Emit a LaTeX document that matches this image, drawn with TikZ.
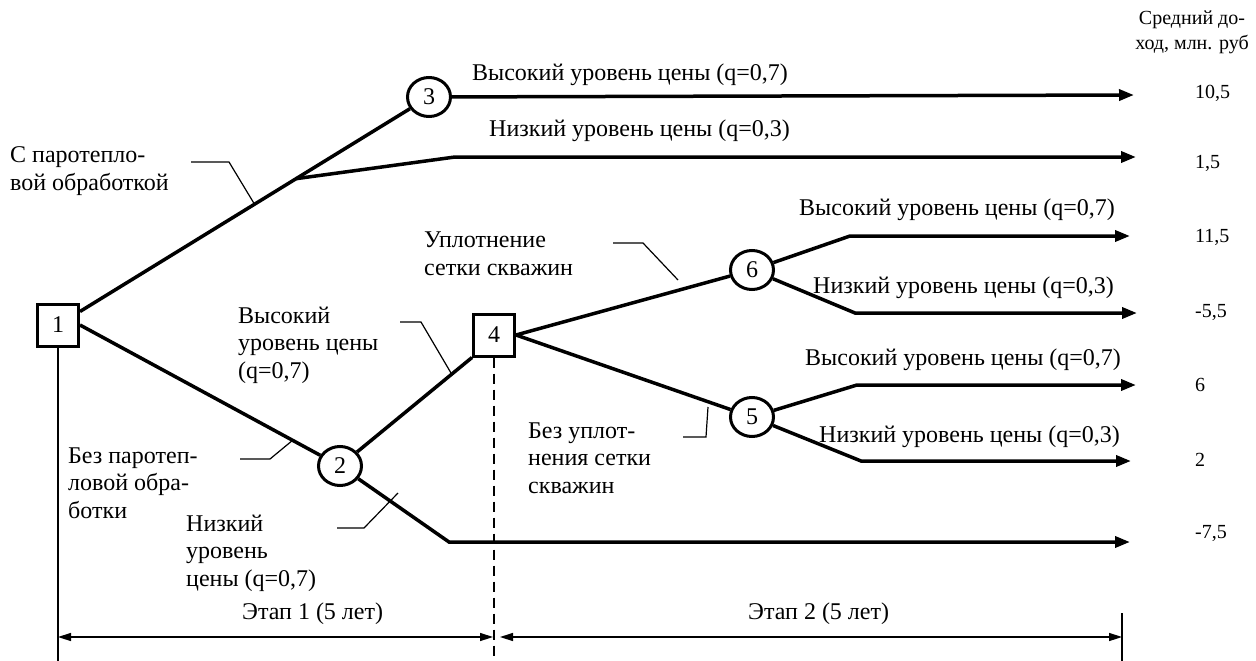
\documentclass[tikz,border=0pt]{standalone}
\usepackage{fontspec}
\setmainfont{Liberation Serif}
\usetikzlibrary{arrows.meta,shapes.geometric}

\tikzset{
    decision/.style={draw, rectangle, line width=3pt, minimum width=41pt, minimum height=42pt, inner sep=0pt},
    chance/.style={draw, ellipse, line width=3pt, minimum width=43pt, minimum height=39pt, inner sep=0pt},
    branch/.style={line width=3.5pt},
    outcome/.style={branch, -{Triangle[length=15pt,width=11pt]}},
    leader/.style={line width=1.2pt},
    lbl/.style={anchor=base west, align=left, inner sep=0pt},
    val/.style={anchor=west, inner sep=0pt, font=\fontsize{20}{24}\selectfont},
    dimline/.style={line width=1.5pt, {Triangle[length=13pt,width=8pt]}-{Triangle[length=13pt,width=8pt]}},
}

\begin{document}
\begin{tikzpicture}[x=1pt, y=-1pt, font=\fontsize{24}{27.5}\selectfont]
    \useasboundingbox (0,0) rectangle (1256,661);

    % decision and chance nodes
    \node[decision] (n1) at (58,325) {1};
    \node[chance] (n3) at (429,97) {3};
    \node[chance] (n2) at (340,466) {2};
    \node[decision] (n4) at (494,335) {4};
    \node[chance] (n6) at (752,270) {6};
    \node[chance] (n5) at (752,417) {5};

    % bends and arrow ends
    \coordinate (b3) at (455,157);
    \coordinate (b2) at (449,542);
    \coordinate (b61) at (850,236);
    \coordinate (b62) at (855,313);
    \coordinate (b51) at (857,385);
    \coordinate (b52) at (861,461);
    \coordinate (e1) at (1134,95);
    \coordinate (e2) at (1136,157);
    \coordinate (e3) at (1130,236);
    \coordinate (e4) at (1137,313);
    \coordinate (e5) at (1136,385);
    \coordinate (e6) at (1131,461);
    \coordinate (e7) at (1130,542);

    \draw[branch] (n1) -- coordinate[pos=0.655] (s3) (n3);
    \draw[branch] (n1.east) -- (n2);
    \draw[branch] (n2) -- (n4.south west);
    \draw[branch] (n4.east) -- (n6);
    \draw[branch] (n4.east) -- (n5);
    \draw[outcome] (n3) -- (e1);
    \draw[outcome] (s3) -- (b3) -- (e2);
    \draw[outcome] (n2) -- (b2) -- (e7);
    \draw[outcome] (n6) -- (b61) -- (e3);
    \draw[outcome] (n6) -- (b62) -- (e4);
    \draw[outcome] (n5) -- (b51) -- (e5);
    \draw[outcome] (n5) -- (b52) -- (e6);

    % branch labels (base = last line)
    \node[lbl] (l3a) at (472,81) {Высокий уровень цены (q=0,7)};
    \node[lbl] (l3b) at (489,136) {Низкий уровень цены (q=0,3)};
    \node[lbl] (l6a) at (799,215) {Высокий уровень цены (q=0,7)};
    \node[lbl] (l6b) at (813,293) {Низкий уровень цены (q=0,3)};
    \node[lbl] (l5a) at (805,365) {Высокий уровень цены (q=0,7)};
    \node[lbl] (l5b) at (819,442) {Низкий уровень цены (q=0,3)};

    \node[lbl] (lsteam) at (10,190) {С паротепло-\\вой обработкой};
    \node[lbl] (lnosteam) at (68,518) {Без паротеп-\\ловой обра-\\ботки};
    \node[lbl] (lhigh2) at (238,378) {Высокий\\уровень цены\\(q=0,7)};
    \node[lbl] (llow2) at (186,586) {Низкий\\уровень\\цены (q=0,7)};
    \node[lbl] (ldense) at (424,275) {Уплотнение\\сетки скважин};
    \node[lbl] (lnodense) at (528,493) {Без уплот-\\нения сетки\\скважин};

    % leaders from labels to branches
    \coordinate (k1) at (191,162);
    \coordinate (k2) at (229,162);
    \coordinate (k3) at (255,205);
    \draw[leader] (k1) -- (k2) -- (k3);
    \coordinate (k4) at (400,322);
    \coordinate (k5) at (421,322);
    \coordinate (k6) at (451,373);
    \draw[leader] (k4) -- (k5) -- (k6);
    \coordinate (k7) at (240,459);
    \coordinate (k8) at (270,459);
    \coordinate (k9) at (293,440);
    \draw[leader] (k7) -- (k8) -- (k9);
    \coordinate (k10) at (337,528);
    \coordinate (k11) at (364,528);
    \coordinate (k12) at (398,493);
    \draw[leader] (k10) -- (k11) -- (k12);
    \coordinate (k13) at (613,243);
    \coordinate (k14) at (643,243);
    \coordinate (k15) at (678,280);
    \draw[leader] (k13) -- (k14) -- (k15);
    \coordinate (k16) at (683,437);
    \coordinate (k17) at (706,437);
    \coordinate (k18) at (708,407);
    \draw[leader] (k16) -- (k17) -- (k18);

    % payoffs
    \node[align=center, inner sep=0pt, font=\fontsize{20}{25}\selectfont] (hdr) at (1192,32) {Средний до-\\ход, млн. руб};
    \foreach \nm/\y/\v in {v1/93/{10,5}, v2/163/{1,5}, v3/237/{11,5}, v4/312/{-5,5}, v5/385/6, v6/460/2, v7/533/{-7,5}}
        \node[val] (\nm) at (1195,\y) {\v};

    % stages
    \coordinate (g1) at (58,661);
    \coordinate (g4) at (494,661);
    \coordinate (g5) at (1122,613);
    \coordinate (g6) at (1122,661);
    \coordinate (a1) at (58,637);
    \coordinate (a2) at (493,637);
    \coordinate (a3) at (500,637);
    \coordinate (a4) at (1122,637);
    \draw[leader] (n1.south) -- (g1);
    \draw[leader, dash pattern=on 10pt off 6pt] (n4.south) -- (g4);
    \draw[leader] (g5) -- (g6);
    \draw[dimline] (a1) -- (a2);
    \draw[dimline] (a3) -- (a4);
    \node[lbl] (st1) at (242,619) {Этап 1 (5 лет)};
    \node[lbl] (st2) at (748,619) {Этап 2 (5 лет)};
\end{tikzpicture}
\end{document}
